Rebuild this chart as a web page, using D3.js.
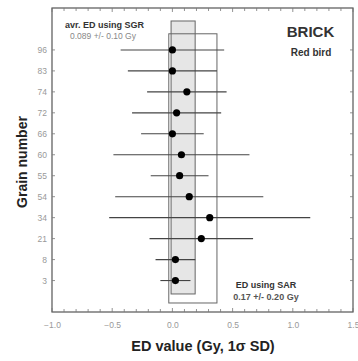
<!DOCTYPE html>
<html><head><meta charset="utf-8">
<script src="https://cdn.jsdelivr.net/npm/d3@7"></script>
<style>body{margin:0;background:#fff;} text{font-family:"Liberation Sans",Arial,sans-serif;}</style>
</head><body><svg id="c" width="358" height="361"></svg>
<script>
const grains = ["3","8","21","34","54","55","60","66","72","74","83","96"];
const edMean = [0.025,0.025,0.24,0.31,0.14,0.06,0.075,0.0,0.035,0.12,0.0,0.0];
const edSD   = [0.125,0.165,0.43,0.835,0.615,0.24,0.565,0.26,0.37,0.33,0.37,0.43];
const sgrMean = 0.089, sgrSD = 0.10;
const sarMean = 0.17, sarSD = 0.20;
const xTicks = [-1.0,-0.5,0.0,0.5,1.0,1.5];

const svg = d3.select("#c");
const L=52, R=353, T=8, B=312;
const x = d3.scaleLinear().domain([-1.0,1.5]).range([L,R]);
const y = d3.scaleLinear().domain([-1.5,13]).range([B,T]);
const frameCol="#555";

svg.append("rect").attr("x",x(sgrMean-sgrSD)).attr("width",x(sgrMean+sgrSD)-x(sgrMean-sgrSD))
  .attr("y",y(12.38)).attr("height",y(-0.64)-y(12.38)).attr("fill","#e6e6e6").attr("stroke","#666").attr("stroke-width",1);
svg.append("rect").attr("x",x(sarMean-sarSD)).attr("width",x(sarMean+sarSD)-x(sarMean-sarSD))
  .attr("y",y(11.77)).attr("height",y(-1.07)-y(11.77)).attr("fill","none").attr("stroke","#666").attr("stroke-width",1);

const g = svg.append("g");
grains.forEach((gn,i)=>{
  g.append("line").attr("x1",x(edMean[i]-edSD[i])).attr("x2",x(edMean[i]+edSD[i]))
   .attr("y1",y(i)).attr("y2",y(i)).attr("stroke","#444").attr("stroke-width",1.1);
  g.append("circle").attr("cx",x(edMean[i])).attr("cy",y(i)).attr("r",3.6).attr("fill","#000");
});

svg.append("rect").attr("x",L).attr("y",T).attr("width",R-L).attr("height",B-T)
  .attr("fill","none").attr("stroke",frameCol).attr("stroke-width",1.2);

const minor = d3.range(-10,16).map(d=>d/10);
minor.forEach(v=>{
  const big = Math.abs(v*2-Math.round(v*2))<1e-6;
  const len = big?4:3;
  svg.append("line").attr("x1",x(v)).attr("x2",x(v)).attr("y1",B).attr("y2",B-len).attr("stroke","#777").attr("stroke-width",0.8);
  svg.append("line").attr("x1",x(v)).attr("x2",x(v)).attr("y1",T).attr("y2",T+len).attr("stroke","#777").attr("stroke-width",0.8);
});
const xa = svg.append("g").attr("transform",`translate(0,${B})`)
  .call(d3.axisBottom(x).tickValues(xTicks).tickSize(0).tickPadding(10).tickFormat(d3.format(".1f")));
xa.select(".domain").remove();
xa.selectAll("text").attr("fill","#999").attr("font-size",8.5).attr("font-family","Liberation Sans, Arial");

const ya = svg.append("g").attr("transform",`translate(${L},0)`)
  .call(d3.axisLeft(y).tickValues(d3.range(grains.length)).tickSize(0).tickPadding(5).tickFormat(i=>grains[i]));
ya.select(".domain").remove();
ya.selectAll("text").attr("fill","#999").attr("font-size",8.5).attr("font-family","Liberation Sans, Arial");
grains.forEach((gn,i)=>{
  svg.append("line").attr("x1",L).attr("x2",L+3).attr("y1",y(i)).attr("y2",y(i)).attr("stroke","#777").attr("stroke-width",0.8);
  svg.append("line").attr("x1",R).attr("x2",R-3).attr("y1",y(i)).attr("y2",y(i)).attr("stroke","#777").attr("stroke-width",0.8);
});

svg.append("text").attr("x",65).attr("y",27.5).attr("font-size",9).attr("font-weight","bold").attr("fill","#333").text("avr. ED using SGR");
svg.append("text").attr("x",70).attr("y",39).attr("font-size",8.5).attr("fill","#888").text("0.089 +/- 0.10 Gy");
svg.append("text").attr("x",310.5).attr("y",37).attr("text-anchor","middle").attr("font-size",15).attr("font-weight","bold").attr("fill","#333").text("BRICK");
svg.append("text").attr("x",311).attr("y",56).attr("text-anchor","middle").attr("font-size",10).attr("font-weight","bold").attr("fill","#333").text("Red bird");
svg.append("text").attr("x",266).attr("y",288).attr("text-anchor","middle").attr("font-size",9).attr("font-weight","bold").attr("fill","#333").text("ED using SAR");
svg.append("text").attr("x",266).attr("y",300).attr("text-anchor","middle").attr("font-size",9).attr("font-weight","bold").attr("fill","#555").text("0.17 +/- 0.20 Gy");
svg.append("text").attr("transform","translate(27,162) rotate(-90)").attr("text-anchor","middle").attr("font-size",14).attr("font-weight","bold").attr("fill","#222").text("Grain number");
svg.append("text").attr("x",203).attr("y",351).attr("text-anchor","middle").attr("font-size",14.5).attr("font-weight","bold").attr("fill","#222").text("ED value (Gy, 1σ SD)");
</script></body></html>
